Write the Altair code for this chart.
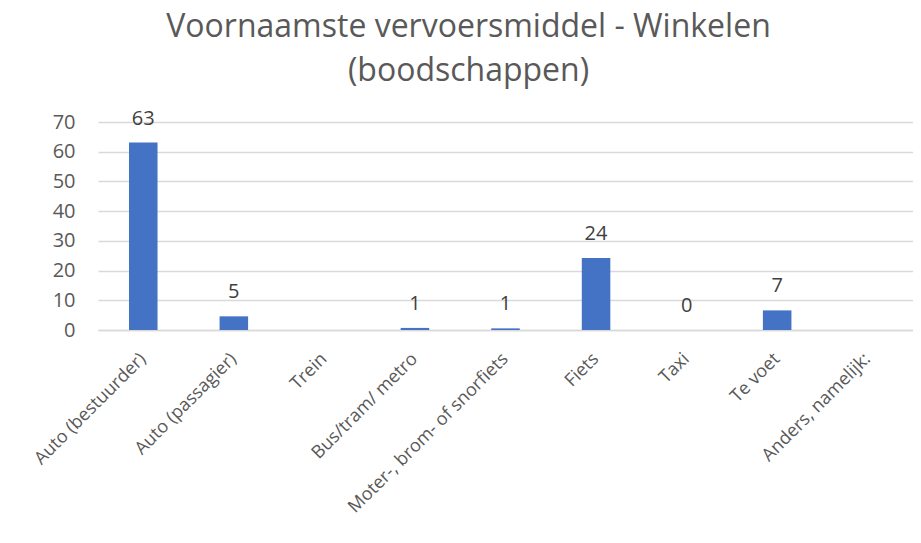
import altair as alt
import pandas as pd

categories = [
    "Auto (bestuurder)",
    "Auto (passagier)",
    "Trein",
    "Bus/tram/ metro",
    "Moter-, brom- of snorfiets",
    "Fiets",
    "Taxi",
    "Te voet",
    "Anders, namelijk:",
]
values = [63.1, 4.6, None, 0.7, 0.55, 24.2, 0.0, 6.6, None]
y_ticks = [0, 10, 20, 30, 40, 50, 60, 70]
title_lines = ["Voornaamste vervoersmiddel - Winkelen", "(boodschappen)"]

df = pd.DataFrame({"cat": categories, "value": values})

FONT = "Open Sans"
GREY = "#595959"

x_enc = alt.X(
    "cat:N",
    sort=categories,
    title=None,
    scale=alt.Scale(paddingInner=0.685, paddingOuter=0.3425),
    axis=alt.Axis(
        labelAngle=-45,
        labelAlign="right",
        labelBaseline="middle",
        labelPadding=26,
        labelFontSize=18,
        labelFont=FONT,
        labelColor=GREY,
        ticks=False,
        domain=True,
        domainColor="#d9d9d9",
        domainWidth=1.5,
        labelOverlap=False,
        labelLimit=400,
    ),
)
y_enc = alt.Y(
    "value:Q",
    title=None,
    scale=alt.Scale(domain=[0, 70], nice=False),
    axis=alt.Axis(
        values=y_ticks,
        domain=False,
        ticks=False,
        grid=True,
        gridColor="#d9d9d9",
        gridWidth=1.5,
        labelFontSize=20,
        labelFont=FONT,
        labelColor=GREY,
        labelPadding=23,
        labelOverlap=False,
    ),
)

bars = alt.Chart(df).mark_bar(color="#4472C4").encode(x=x_enc, y=y_enc)

labels = (
    alt.Chart(df)
    .transform_filter("datum.value != null")
    .mark_text(
        font=FONT, fontSize=20, color="#404040", baseline="alphabetic", dy=-18
    )
    .encode(
        x=x_enc,
        y=y_enc,
        text=alt.Text("value:Q", format=".0f"),
    )
)

chart = (
    alt.layer(bars, labels)
    .properties(
        width=815,
        height=208,
        autosize=alt.AutoSizeParams(type="none"),
        padding={"left": 90, "top": 114, "right": 0, "bottom": 205},
        title=alt.TitleParams(
            text=title_lines,
            font=FONT,
            fontSize=32,
            fontWeight="normal",
            color=GREY,
            anchor="middle",
            frame="group",
            dx=-37,
            lineHeight=44,
            offset=21,
        ),
    )
    .configure_view(stroke=None)
)

chart.save("out.html", embed_options={"renderer": "svg", "actions": False})
